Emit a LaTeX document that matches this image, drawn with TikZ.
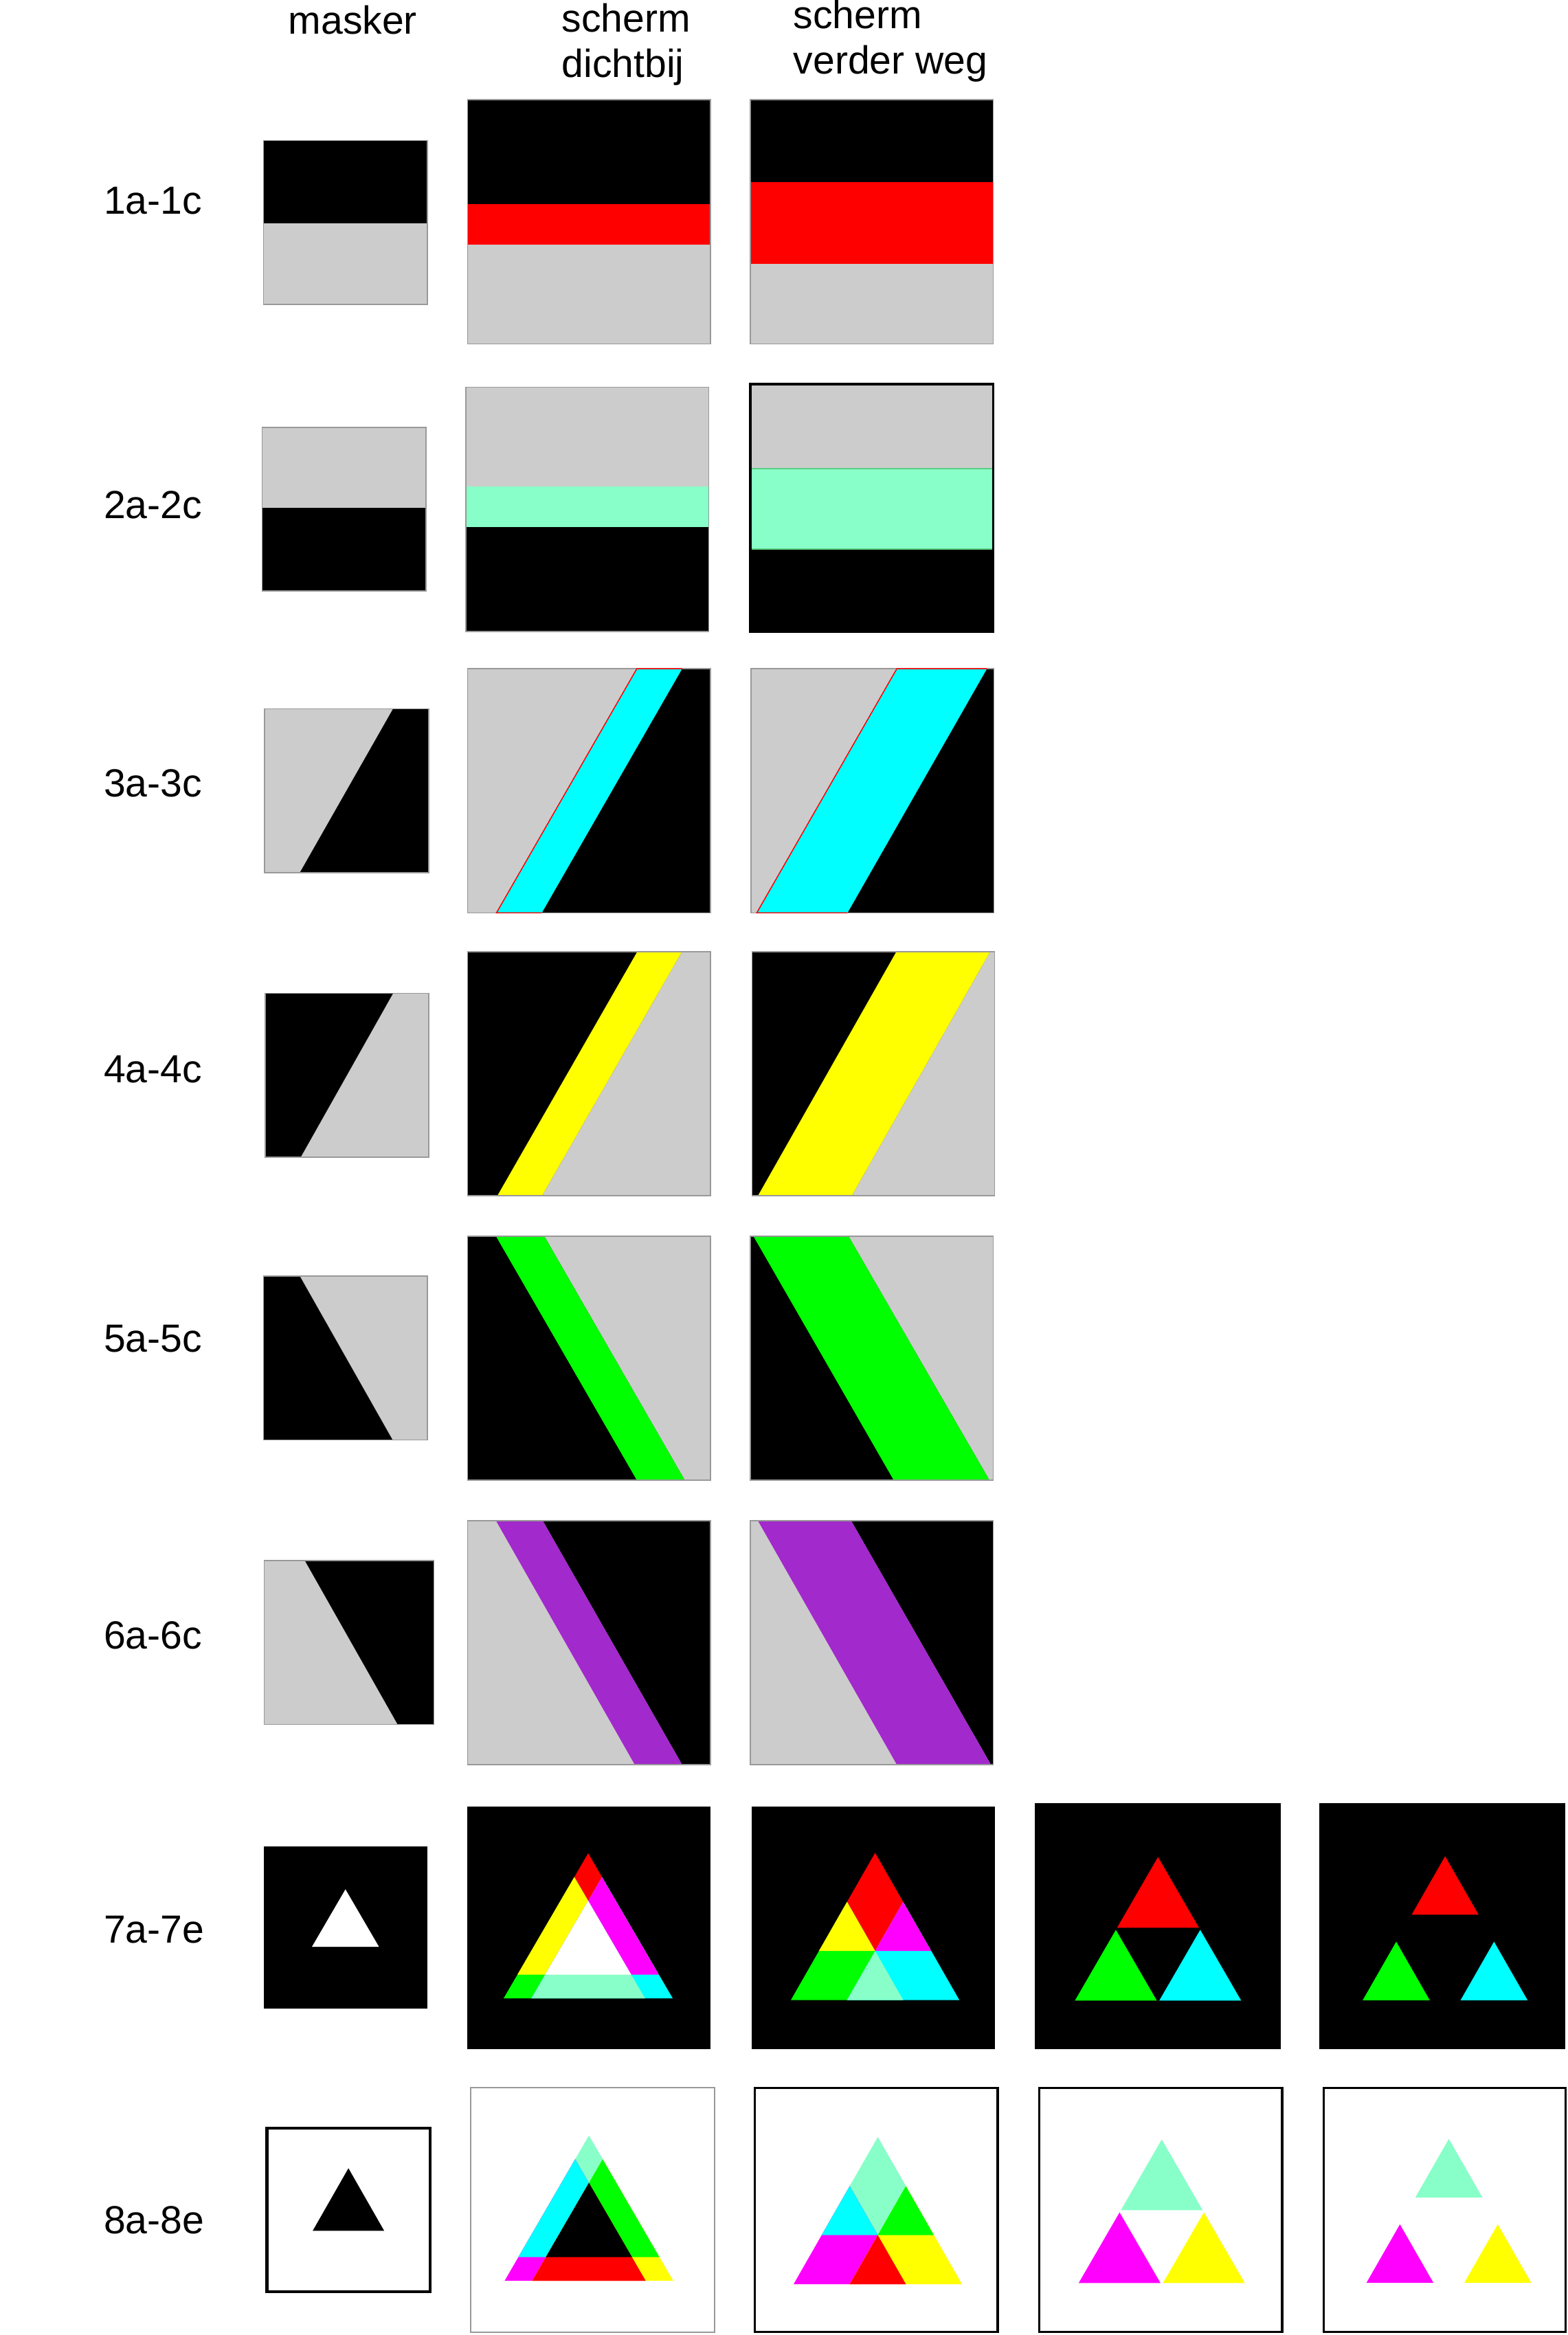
\documentclass[tikz,border=0pt]{standalone}
\usepackage{fontspec}
\setmainfont{Liberation Sans}

\definecolor{lgray}{RGB}{204,204,204}
\definecolor{aquagreen}{RGB}{136,255,200}
\definecolor{purpleband}{RGB}{162,41,203}
\definecolor{bandedge}{RGB}{90,205,130}
\definecolor{pcyan}{RGB}{0,255,255}
\definecolor{pmagenta}{RGB}{255,0,255}
\definecolor{pyellow}{RGB}{255,255,0}
\definecolor{pgreen}{RGB}{0,255,0}
\definecolor{pred}{RGB}{255,0,0}
% light through the hole (row 7)
\colorlet{Ltop}{pred}      \colorlet{Lbl}{pgreen}     \colorlet{Lbr}{pcyan}
\colorlet{Ltbl}{pyellow}   \colorlet{Ltbr}{pmagenta}  \colorlet{Lbb}{aquagreen}
\colorlet{Lall}{white}
% shadow of the triangle (row 8)
\colorlet{Dtop}{aquagreen} \colorlet{Dbl}{pmagenta}   \colorlet{Dbr}{pyellow}
\colorlet{Dtbl}{pcyan}     \colorlet{Dtbr}{pgreen}    \colorlet{Dbb}{pred}
\colorlet{Dall}{black}

\newcommand{\tripath}[4]{({#1},{#2}) -- ++({-(#3)/2},{#4}) -- ++({#3},0) -- cycle}
\newcommand{\hstripes}[7]{%
  \fill[#5] (#1,#2) rectangle (#1+\bw,#3);
  \fill[#6] (#1,#3) rectangle (#1+\bw,#4);
  \fill[#7] (#1,#4) rectangle (#1+\bw,#2+\bh);
  \draw[frame] (#1,#2) rectangle ++(\bw,\bh);}
\newcommand{\shadeband}[9]{%
  \fill[#7] (#1,#2) rectangle ++(\bw,\bh);
  \fill[#9] (#4,#2) -- (#1+\bw,#2) -- (#1+\bw,#2+\bh) -- (#6,#2+\bh) -- cycle;
  \fill[#8] (#3,#2) -- (#4,#2) -- (#6,#2+\bh) -- (#5,#2+\bh) -- cycle;
  \draw[frame] (#1,#2) rectangle ++(\bw,\bh);}
\newcommand{\lighttrio}[6]{%
  \pgfmathsetmacro{\tdx}{#5*(#3)/2}%
  \pgfmathsetmacro{\tdy}{#5*(#4)}%
  \fill[#6top] \tripath{#1}{#2}{#3}{#4};
  \fill[#6bl] \tripath{#1-\tdx}{#2+\tdy}{#3}{#4};
  \fill[#6br] \tripath{#1+\tdx}{#2+\tdy}{#3}{#4};
  \begin{scope}
    \clip \tripath{#1}{#2}{#3}{#4};
    \fill[#6tbl] \tripath{#1-\tdx}{#2+\tdy}{#3}{#4};
    \fill[#6tbr] \tripath{#1+\tdx}{#2+\tdy}{#3}{#4};
  \end{scope}
  \begin{scope}
    \clip \tripath{#1-\tdx}{#2+\tdy}{#3}{#4};
    \fill[#6bb] \tripath{#1+\tdx}{#2+\tdy}{#3}{#4};
    \clip \tripath{#1}{#2}{#3}{#4};
    \fill[#6all] \tripath{#1+\tdx}{#2+\tdy}{#3}{#4};
  \end{scope}}

\begin{document}
\begin{tikzpicture}[
  x=0.1mm, y=-0.1mm,
  frame/.style={draw=gray!80, line width=0.08mm},
  darkframe/.style={draw=black, line width=0.16mm},
  redge/.style={draw=pred, line width=0.07mm},
  lab/.style={anchor=base west, inner sep=0pt, align=left,
              font=\fontsize{7.5pt}{8.7pt}\selectfont}
]
\useasboundingbox (0,0) rectangle (1053,1568);

% column heads (base = last line)
\node[lab] (hmask) at (193,22.7)   {masker};
\node[lab] (hnear) at (376.7,51.8) {scherm\\dichtbij};
\node[lab] (hfar)  at (532.2,49.5) {scherm\\verder weg};

% row labels
\foreach \n/\lbl/\yy in {1/1a-1c/143.6, 2/2a-2c/348, 3/3a-3c/535, 4/4a-4c/727,
                         5/5a-5c/908, 6/6a-6c/1107, 7/7a-7e/1304.6, 8/8a-8e/1500}
  \node[lab] (row\n) at (69,\yy) {\lbl};

% row 1: horizontal edge
\def\bw{110}\def\bh{110}
\hstripes{177}{94.3}{149.8}{149.8}{black}{black}{lgray}
\def\bw{163}\def\bh{164}
\hstripes{314}{67}{137.2}{164.4}{black}{pred}{lgray}
\hstripes{504}{67}{122.5}{177}{black}{pred}{lgray}

% row 2
\def\bw{110}\def\bh{110}
\hstripes{176}{287}{341.2}{341.2}{lgray}{lgray}{black}
\def\bw{163}\def\bh{164}
\hstripes{313}{260}{326.9}{354}{lgray}{aquagreen}{black}
\def\bh{166}
\hstripes{504}{258}{314.6}{368.5}{lgray}{aquagreen}{black}
\draw[bandedge, line width=0.1mm] (504,314.6) rectangle (667,368.5);
\draw[darkframe] (504,258) rectangle ++(163,166);

% row 3
\def\bw{110}\def\bh{110}
\shadeband{177.8}{476}{264}{264}{201.4}{201.4}{lgray}{black}{black}
\def\bw{163}\def\bh{164}
\shadeband{314}{449}{427.7}{458.1}{333.4}{363.8}{lgray}{pcyan}{black}
\draw[redge] (363.8,613) -- (333.4,613) -- (427.7,449) -- (458.1,449);
\shadeband{504.5}{449}{602.3}{662.8}{508.2}{569.1}{lgray}{pcyan}{black}
\draw[redge] (569.1,613) -- (508.2,613) -- (602.3,449) -- (662.8,449);

% row 4
\def\bw{110}\def\bh{110}
\shadeband{178}{667}{264}{264}{202}{202}{black}{black}{lgray}
\def\bw{163}\def\bh{164}
\shadeband{314}{639}{428}{458}{334}{364}{black}{pyellow}{lgray}
\shadeband{505}{639}{602}{665}{509}{572}{black}{pyellow}{lgray}

% row 5
\def\bw{110}\def\bh{110}
\shadeband{177}{857}{201.4}{201.4}{263.7}{263.7}{black}{black}{lgray}
\def\bw{163}\def\bh{164}
\shadeband{314}{830}{333}{365.5}{427.7}{459.9}{black}{pgreen}{lgray}
\shadeband{504}{830}{505.9}{569.8}{600.2}{664.5}{black}{pgreen}{lgray}

% row 6
\def\bw{114}\def\bh{110}
\shadeband{177.4}{1048}{204.8}{204.8}{267.1}{267.1}{lgray}{black}{black}
\def\bw{163}\def\bh{164}
\shadeband{314}{1021}{333}{364.4}{426.3}{458.1}{lgray}{purpleband}{black}
\shadeband{504}{1021}{508.9}{571.5}{602.3}{665.5}{lgray}{purpleband}{black}

% row 7: triangle hole
\fill[black] (177,1240) rectangle ++(110,109);
\fill[white] \tripath{232}{1268.7}{45}{38.6};
\foreach \bx/\by/\bs/\ax/\ay/\tw/\th/\ts in {
    314/1213/163/395/1244.5/95/81.5/0.196,
    505/1213/163/587.7/1244.2/75.4/65.9/0.5,
    695/1211/165/777.7/1247/55/47.5/1.03,
    886/1211/165/970.5/1246.5/45/39.3/1.46}{
  \fill[black] (\bx,\by) rectangle ++(\bs,\bs);
  \lighttrio{\ax}{\ay}{\tw}{\th}{\ts}{L}
}

% row 8: triangle obstacle
\draw[darkframe, line width=0.2mm] (179.3,1429.2) rectangle ++(109.5,109.8);
\fill[black] \tripath{234}{1456}{48}{42};
\foreach \bx/\bs/\ax/\ay/\tw/\th/\ts/\fr in {
    316/164/395.5/1434/94.8/81.7/0.195/frame,
    507/163/589.5/1435/75.4/65.9/0.5/darkframe,
    698/163/780.2/1436.7/55/47.5/1.03/darkframe,
    889/162.5/973/1436.3/45/39.3/1.46/darkframe}{
  \draw[\fr] (\bx,1402) rectangle ++(\bs,164);
  \lighttrio{\ax}{\ay}{\tw}{\th}{\ts}{D}
}
\end{tikzpicture}
\end{document}
